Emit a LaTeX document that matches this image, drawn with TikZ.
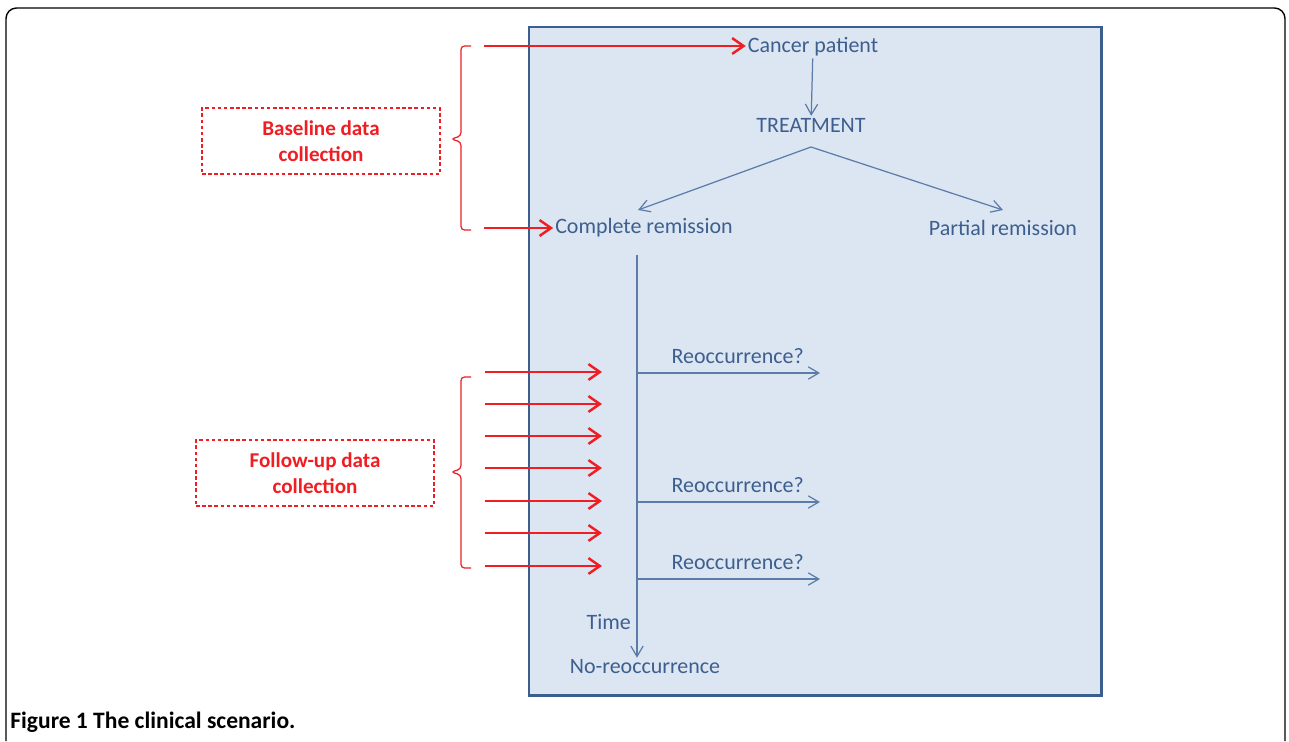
\documentclass[tikz,border=0pt]{standalone}
\usepackage{fontspec}
\setmainfont{Carlito}
\usetikzlibrary{arrows.meta,positioning}
\definecolor{boxfill}{HTML}{DCE6F2}
\definecolor{boxline}{HTML}{3A5F8E}
\definecolor{flowtext}{HTML}{3D5F8F}
\definecolor{flowline}{HTML}{5B7CA9}
\definecolor{collect}{HTML}{F01E23}
\tikzset{
    flow/.style={text=flowtext, font=\fontsize{12.5}{14}\selectfont, inner sep=1pt},
    flowarrow/.style={draw=flowline, line width=0.7pt, -{Straight Barb[length=6pt,width=7pt]}},
    redarrow/.style={draw=collect, line width=1.4pt, -{Straight Barb[length=6.5pt,width=9pt]}},
    collectbox/.style={draw=collect, dashed, dash pattern=on 2pt off 1.5pt, line width=0.6pt,
        minimum width=4.76cm, minimum height=1.32cm, align=center, text=collect,
        font=\bfseries\fontsize{12}{14.7}\selectfont},
    bracket/.style={draw=collect, line width=0.7pt, rounded corners=2pt},
}
\begin{document}
\begin{tikzpicture}[x=0.02cm, y=-0.02cm]
\useasboundingbox[fill=white] (0,0) rectangle (1289,741);
% outer frame
\draw[line width=0.8pt, rounded corners=6pt] (6,741) -- (6,8) -- (1285,8) -- (1285,741);
% scenario panel
\draw[fill=boxfill, draw=boxline, line width=1.7pt] (529,27) rectangle (1101,695);

% flow nodes
\node[flow] (patient) at (813,47) {Cancer patient};
\node[flow] (treat) at (811,125) {TREATMENT};
\node[flow] (complete) at (644,228) {Complete remission};
\node[flow] (partial) at (1003,228) {Partial remission};
\node[flow] (noreoc) at (645,667) {No-reoccurrence};
\node[flow, anchor=east] (time) at (633,622) {Time};

\coordinate (split) at (811,147);
\coordinate (ttop) at (637,255);
\draw[flowarrow] (patient) -- (treat);
\draw[flowarrow] (split) -- (638,210);
\draw[flowarrow] (split) -- (1003,210);
\draw[flowarrow] (ttop) -- (noreoc.north -| ttop);

% reoccurrence branches
\foreach \y/\name in {373/ra, 502/rb, 579/rc}{
    \coordinate (\name) at (637,\y);
    \draw[flowarrow] (\name) -- ++(183,0)
        node[flow, pos=0.55, above=4pt] (\name-lbl) {Reoccurrence?};
}

% baseline data collection
\node[collectbox] (baseline) at (321,141) {Baseline data\\collection};
\draw[bracket] (471,46) -- (461,46) -- (461,136) -- (451,139) -- (461,142) -- (461,230) -- (471,230);
\coordinate (bl1) at (484,46);
\coordinate (bl2) at (484,228);
\draw[redarrow] (bl1) -- (bl1 -| patient.west);
\draw[redarrow] (bl2) -- (bl2 -| complete.west);

% follow-up data collection
\node[collectbox] (followup) at (315,473) {Follow-up data\\collection};
\draw[bracket] (471,377) -- (461,377) -- (461,469) -- (451,472) -- (461,475) -- (461,568) -- (471,568);
\foreach \y [count=\i] in {372,404,436,468,501,533,566}{
    \coordinate (fu\i) at (485,\y);
    \draw[redarrow] (fu\i) -- ++(117,0);
}

% caption
\node[anchor=west, inner sep=0pt, font=\bfseries\fontsize{13.4}{15}\selectfont] (caption) at (10,722)
    {Figure 1 The clinical scenario.};
\end{tikzpicture}
\end{document}
